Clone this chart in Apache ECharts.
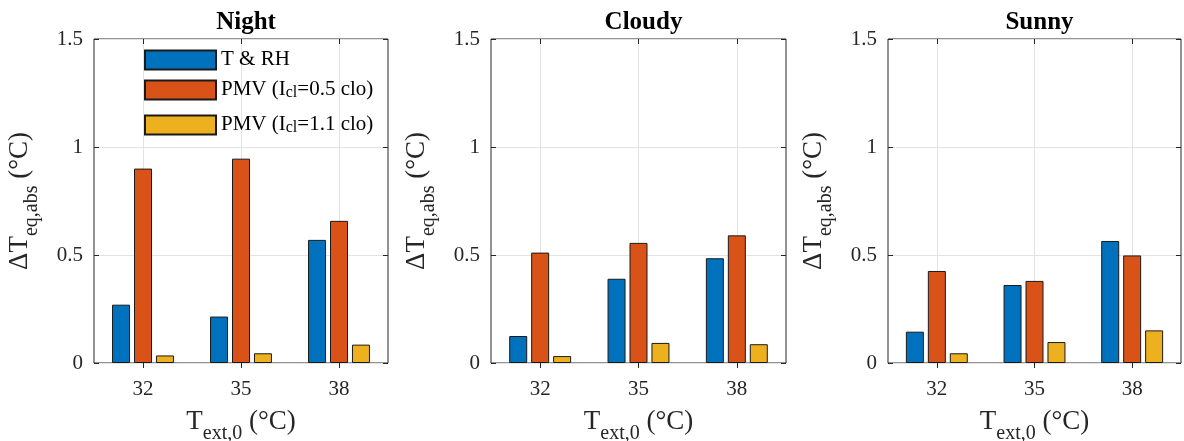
<!DOCTYPE html>
<html><head><meta charset="utf-8">
<script src="https://cdn.jsdelivr.net/npm/echarts@6/dist/echarts.min.js"></script>
<style>html,body{margin:0;padding:0;background:#fff;overflow:hidden}#c{width:1184px;height:441px}</style>
</head><body><div id="c"></div>
<script>
const categories = ['32', '35', '38'];
const panelTitles = ['Night', 'Cloudy', 'Sunny'];
const seriesNames = ['T & RH', 'PMV (Icl=0.5 clo)', 'PMV (Icl=1.1 clo)'];
const yTicks = [0, 0.5, 1, 1.5];

const nightTRH = [0.27, 0.215, 0.57];
const nightPMV05 = [0.90, 0.946, 0.658];
const nightPMV11 = [0.035, 0.045, 0.085];

const cloudyTRH = [0.125, 0.39, 0.485];
const cloudyPMV05 = [0.511, 0.556, 0.591];
const cloudyPMV11 = [0.032, 0.093, 0.087];

const sunnyTRH = [0.145, 0.361, 0.565];
const sunnyPMV05 = [0.426, 0.38, 0.498];
const sunnyPMV11 = [0.045, 0.097, 0.151];

const panelData = [
  [nightTRH, nightPMV05, nightPMV11],
  [cloudyTRH, cloudyPMV05, cloudyPMV11],
  [sunnyTRH, sunnyPMV05, sunnyPMV11]
];

const colors = ['#0072BD', '#D95319', '#EDB120'];
const FONT = '"Liberation Serif", "DejaVu Serif", serif';
const INK = '#262626';
const grids = [
  {left: 94, width: 294},
  {left: 491, width: 295},
  {left: 888, width: 293}
];

const chart = echarts.init(document.getElementById('c'), null, {renderer: 'canvas', width: 1184, height: 441});

const option = {
  animation: false,
  backgroundColor: '#fff',
  textStyle: {fontFamily: FONT},
  title: [], grid: [], xAxis: [], yAxis: [], series: [],
  legend: []
};

const oddOnly = function (i) { return i % 2 === 1; };
const helperData = ['', '', '', '', '', '', ''];

panelData.forEach(function (vals, p) {
  const g = grids[p];
  option.grid.push({left: g.left, width: g.width, top: 39, height: 324, show: true,
    containLabel: false, outerBoundsMode: 'none',
    borderColor: INK, borderWidth: 1, backgroundColor: 'transparent'});
  option.title.push({text: panelTitles[p], left: g.left + g.width / 2, top: 5, textAlign: 'center',
    textStyle: {fontFamily: FONT, fontWeight: 'bold', fontSize: 25, color: '#000'}});
  option.xAxis.push({type: 'category', gridIndex: p, data: categories,
    axisLine: {show: false}, axisTick: {show: false}, splitLine: {show: false},
    axisLabel: {fontFamily: FONT, fontSize: 21, color: INK, margin: 16},
    name: '{m|T}{s|ext,0}{m| (°C)}', nameLocation: 'middle', nameGap: 45,
    nameTextStyle: {rich: {
      m: {fontFamily: FONT, fontSize: 27, color: INK, lineHeight: 36, verticalAlign: 'top'},
      s: {fontFamily: FONT, fontSize: 20, color: INK, lineHeight: 36, verticalAlign: 'bottom', padding: [16, 0, 0, 0]}
    }}
  });
  option.xAxis.push({type: 'category', gridIndex: p, data: helperData, boundaryGap: false,
    axisLine: {show: false}, axisLabel: {show: false},
    axisTick: {show: true, inside: true, length: 5, interval: oddOnly, lineStyle: {color: INK}},
    splitLine: {show: true, interval: oddOnly, lineStyle: {color: '#e3e3e3', width: 1}}
  });
  option.xAxis.push({type: 'category', gridIndex: p, data: helperData, boundaryGap: false, position: 'top',
    axisLine: {show: false}, axisLabel: {show: false},
    axisTick: {show: true, inside: true, length: 5, interval: oddOnly, lineStyle: {color: INK}},
    splitLine: {show: false}
  });
  option.yAxis.push({type: 'value', gridIndex: p, min: yTicks[0], max: yTicks[yTicks.length - 1], interval: 0.5,
    axisLine: {show: false},
    axisTick: {show: true, inside: true, length: 5, lineStyle: {color: INK}},
    axisLabel: {fontFamily: FONT, fontSize: 21, color: INK, margin: 11},
    splitLine: {show: true, lineStyle: {color: '#e3e3e3', width: 1}},
    name: '{m|ΔT}{s|eq,abs}{m| (°C)}', nameLocation: 'middle', nameRotate: 90, nameGap: 52,
    nameTextStyle: {rich: {
      m: {fontFamily: FONT, fontSize: 27, color: INK, lineHeight: 36, verticalAlign: 'top'},
      s: {fontFamily: FONT, fontSize: 20, color: INK, lineHeight: 36, verticalAlign: 'bottom', padding: [16, 0, 0, 0]}
    }}
  });
  option.yAxis.push({type: 'value', gridIndex: p, position: 'right', min: 0, max: 1.5, interval: 0.5,
    axisLine: {show: false}, axisLabel: {show: false}, splitLine: {show: false},
    axisTick: {show: true, inside: true, length: 5, lineStyle: {color: INK}}
  });
  vals.forEach(function (arr, k) {
    option.series.push({
      type: 'bar', name: seriesNames[k], xAxisIndex: 3 * p, yAxisIndex: 2 * p,
      data: arr, barWidth: 18, barGap: '22%',
      itemStyle: {color: colors[k], borderColor: '#1a1a1a', borderWidth: 1},
      emphasis: {disabled: true}
    });
  });
});

const legendTops = [49, 73, 108];
const legendFmt = {
  'T & RH': '{m|T & RH}',
  'PMV (Icl=0.5 clo)': '{m|PMV (I}{s|cl}{m|=0.5 clo)}',
  'PMV (Icl=1.1 clo)': '{m|PMV (I}{s|cl}{m|=1.1 clo)}'
};
seriesNames.forEach(function (n, i) {
  option.legend.push({
    data: [n], left: 144, top: legendTops[i], orient: 'vertical', padding: 0,
    itemWidth: 71, itemHeight: 19, icon: 'rect',
    formatter: function (name) { return legendFmt[name]; },
    textStyle: {rich: {
      m: {fontFamily: FONT, fontSize: 21, color: '#000', lineHeight: 22, verticalAlign: 'top'},
      s: {fontFamily: FONT, fontSize: 16, color: '#000', lineHeight: 22, verticalAlign: 'bottom', padding: [12, 0, 0, 0]}
    }},
    selectedMode: false
  });
});

chart.setOption(option);
</script>
</body></html>
